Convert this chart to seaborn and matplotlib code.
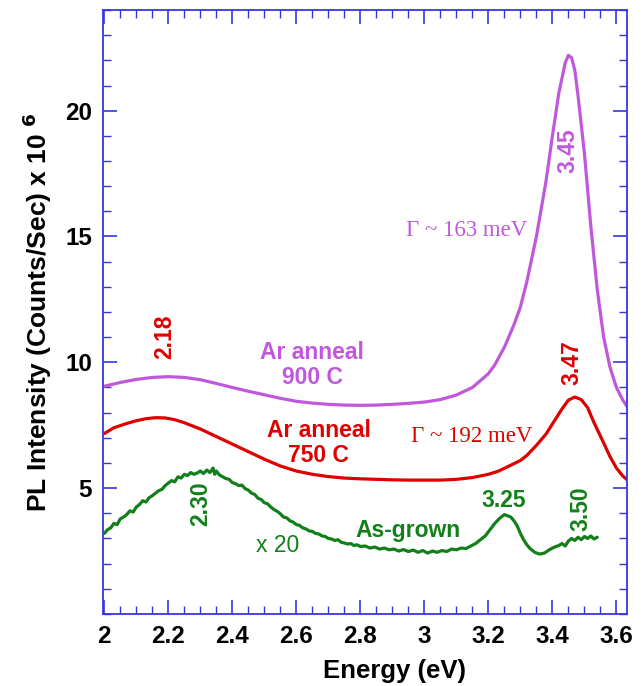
import matplotlib
matplotlib.use("Agg")
import matplotlib.pyplot as plt
from matplotlib.ticker import MultipleLocator, FuncFormatter
import seaborn as sns
import pandas as pd

# ---- data ----
e_900 = [2.00, 2.05, 2.10, 2.15, 2.20, 2.25, 2.30, 2.35, 2.40, 2.45, 2.50, 2.55, 2.60, 2.65, 2.70,
         2.75, 2.80, 2.85, 2.90, 2.95, 3.00, 3.05, 3.10, 3.15, 3.20, 3.22, 3.25, 3.28, 3.30, 3.32,
         3.35, 3.38, 3.40, 3.42, 3.44, 3.45, 3.46, 3.47, 3.48, 3.50, 3.52, 3.54, 3.56, 3.58, 3.60,
         3.62, 3.633]
i_900 = [9.05, 9.20, 9.32, 9.40, 9.43, 9.40, 9.31, 9.16, 9.00, 8.85, 8.71, 8.57, 8.45, 8.38, 8.33,
         8.30, 8.29, 8.30, 8.33, 8.37, 8.42, 8.52, 8.70, 9.00, 9.55, 9.90, 10.6, 11.5, 12.2, 13.2,
         15.0, 17.2, 19.0, 20.7, 21.9, 22.2, 22.1, 21.6, 20.6, 18.3, 15.4, 12.9, 11.0, 9.8, 9.0,
         8.5, 8.25]

e_750 = [2.00, 2.03, 2.07, 2.10, 2.13, 2.16, 2.19, 2.22, 2.25, 2.30, 2.35, 2.40, 2.45, 2.50, 2.55,
         2.60, 2.65, 2.70, 2.75, 2.80, 2.85, 2.90, 2.95, 3.00, 3.05, 3.10, 3.15, 3.20, 3.23, 3.26,
         3.30, 3.32, 3.35, 3.38, 3.41, 3.43, 3.45, 3.47, 3.49, 3.51, 3.53, 3.56, 3.58, 3.60, 3.62,
         3.633]
i_750 = [7.17, 7.40, 7.57, 7.68, 7.76, 7.80, 7.79, 7.72, 7.60, 7.35, 7.05, 6.75, 6.45, 6.15, 5.88,
         5.68, 5.55, 5.46, 5.40, 5.37, 5.35, 5.33, 5.32, 5.32, 5.32, 5.35, 5.42, 5.55, 5.67, 5.85,
         6.10, 6.30, 6.70, 7.15, 7.75, 8.15, 8.50, 8.62, 8.52, 8.20, 7.60, 6.80, 6.25, 5.80, 5.48,
         5.34]

e_grown = [2.000, 2.010, 2.020, 2.030, 2.040, 2.050, 2.060, 2.070, 2.080, 2.090, 2.100, 2.110,
           2.120, 2.130, 2.140, 2.150, 2.160, 2.170, 2.180, 2.190, 2.200, 2.210, 2.220, 2.230,
           2.240, 2.250, 2.260, 2.270, 2.280, 2.290, 2.300, 2.310, 2.320, 2.330, 2.340, 2.345,
           2.350, 2.360, 2.370, 2.380, 2.390, 2.400, 2.410, 2.420, 2.430, 2.440, 2.450, 2.460,
           2.470, 2.480, 2.490, 2.500, 2.510, 2.520, 2.530, 2.540, 2.550, 2.560, 2.570, 2.580,
           2.590, 2.600, 2.610, 2.620, 2.630, 2.640, 2.650, 2.660, 2.670, 2.680, 2.690, 2.700,
           2.710, 2.720, 2.730, 2.740, 2.750, 2.760, 2.770, 2.780, 2.790, 2.800, 2.815, 2.830,
           2.845, 2.860, 2.875, 2.890, 2.905, 2.920, 2.935, 2.950, 2.965, 2.980, 2.995, 3.010,
           3.025, 3.040, 3.055, 3.070, 3.085, 3.100, 3.115, 3.130, 3.145, 3.160, 3.175, 3.190,
           3.205, 3.220, 3.235, 3.250, 3.260, 3.270, 3.280, 3.290, 3.300, 3.310, 3.320, 3.330,
           3.345, 3.360, 3.375, 3.390, 3.405, 3.420, 3.430, 3.440, 3.450, 3.460, 3.470, 3.480,
           3.490, 3.500, 3.510, 3.520, 3.530, 3.540]
i_grown = [3.20, 3.35, 3.42, 3.60, 3.55, 3.78, 3.85, 3.95, 4.10, 4.05, 4.25, 4.35, 4.50, 4.45,
           4.62, 4.70, 4.80, 4.90, 4.95, 5.10, 5.20, 5.30, 5.25, 5.45, 5.40, 5.55, 5.50, 5.62,
           5.55, 5.60, 5.68, 5.58, 5.72, 5.62, 5.80, 5.55, 5.68, 5.52, 5.45, 5.38, 5.35, 5.22,
           5.18, 5.10, 5.12, 4.98, 4.92, 4.80, 4.75, 4.60, 4.55, 4.42, 4.38, 4.25, 4.15, 4.08,
           3.98, 3.85, 3.82, 3.70, 3.65, 3.55, 3.52, 3.42, 3.38, 3.30, 3.28, 3.20, 3.18, 3.10,
           3.08, 3.00, 2.98, 2.92, 2.95, 2.85, 2.82, 2.78, 2.80, 2.72, 2.75, 2.68, 2.70, 2.62,
           2.66, 2.58, 2.62, 2.55, 2.58, 2.50, 2.56, 2.48, 2.54, 2.45, 2.52, 2.42, 2.50, 2.45,
           2.52, 2.48, 2.58, 2.55, 2.62, 2.60, 2.70, 2.80, 2.95, 3.10, 3.35, 3.60, 3.80, 3.95,
           3.90, 3.85, 3.70, 3.50, 3.20, 2.95, 2.75, 2.60, 2.45, 2.38, 2.42, 2.55, 2.65, 2.72,
           2.80, 2.70, 2.90, 3.00, 2.92, 3.05, 2.95, 3.08, 3.00, 3.10, 2.98, 3.05]

series_labels = ["Ar anneal 900 C", "Ar anneal 750 C", "As-grown"]
colors = {"Ar anneal 900 C": "#c058dc", "Ar anneal 750 C": "#e00000", "As-grown": "#12801a"}

x_ticks = [2, 2.2, 2.4, 2.6, 2.8, 3, 3.2, 3.4, 3.6]
y_ticks = [5, 10, 15, 20]

df = pd.concat([
    pd.DataFrame({"E": e_900, "I": i_900, "s": series_labels[0]}),
    pd.DataFrame({"E": e_750, "I": i_750, "s": series_labels[1]}),
    pd.DataFrame({"E": e_grown, "I": i_grown, "s": series_labels[2]}),
])

sns.set_style("ticks")
plt.rcParams["font.family"] = ["Liberation Sans", "DejaVu Sans"]

fig = plt.figure(figsize=(6.44, 6.86), dpi=100)
ax = fig.add_axes([0.16, 0.105, 0.8136, 0.8804])

sns.lineplot(data=df, x="E", y="I", hue="s", palette=colors, estimator=None, sort=False,
             linewidth=2.3, legend=False, ax=ax)

ax.set_xlim(1.996, 3.633)
ax.set_ylim(0, 24)
ax.set_xticks(x_ticks)
ax.set_yticks(y_ticks)
ax.xaxis.set_minor_locator(MultipleLocator(0.05))
ax.yaxis.set_minor_locator(MultipleLocator(1))
ax.xaxis.set_major_formatter(FuncFormatter(lambda v, p: "%g" % v))

blue = "#3636e0"
for sp in ax.spines.values():
    sp.set_visible(True)
    sp.set_color(blue)
    sp.set_linewidth(1.3)
ax.tick_params(which="both", direction="in", top=True, right=True, color=blue,
               labelcolor="black")
ax.tick_params(which="major", length=10, width=1.2, pad=8)
ax.tick_params(which="minor", length=6, width=1.0)
for lab in ax.get_xticklabels() + ax.get_yticklabels():
    lab.set_fontsize(17.5)
    lab.set_fontweight("bold")

ax.set_xlabel("Energy (eV)", fontsize=18.5, fontweight="bold", labelpad=6, color="black")
ax.xaxis.set_label_coords(0.557, -0.075)
ax.set_ylabel(r"PL Intensity (Counts/Sec) x 10 $^{\mathbf{6}}$", fontsize=19,
              fontweight="bold", labelpad=8, color="black")

# ---- annotations ----
c9, c7, cg = colors[series_labels[0]], colors[series_labels[1]], colors[series_labels[2]]
bk = dict(fontweight="bold", fontsize=16.5, ha="center", va="center")
ax.text(2.19, 11.0, "2.18", color=c7, rotation=90, **bk)
ax.text(2.65, 9.9, "Ar anneal\n900 C", color=c9, linespacing=1.1, **bk)
ax.text(2.67, 6.8, "Ar anneal\n750 C", color=c7, linespacing=1.1, **bk)
ax.text(2.30, 4.38, "2.30", color=cg, rotation=90, **bk)
ax.text(2.54, 2.74, "x 20", color=cg, fontsize=16.5, ha="center", va="center")
ax.text(2.95, 3.3, "As-grown", color=cg, **bk)
ax.text(3.247, 4.52, "3.25", color=cg, **bk)
ax.text(3.49, 4.17, "3.50", color=cg, rotation=90, **bk)
ax.text(3.461, 9.98, "3.47", color=c7, rotation=90, **bk)
ax.text(3.447, 18.4, "3.45", color=c9, rotation=90, **bk)
serif = dict(fontsize=16.5, ha="center", va="center", family=["Liberation Serif", "DejaVu Serif"])
ax.text(3.148, 7.04, "Γ ~ 192 meV", color=c7, **serif)
ax.text(3.133, 15.24, "Γ ~ 163 meV", color=c9, **serif)

fig.savefig("out.png", dpi=100)
